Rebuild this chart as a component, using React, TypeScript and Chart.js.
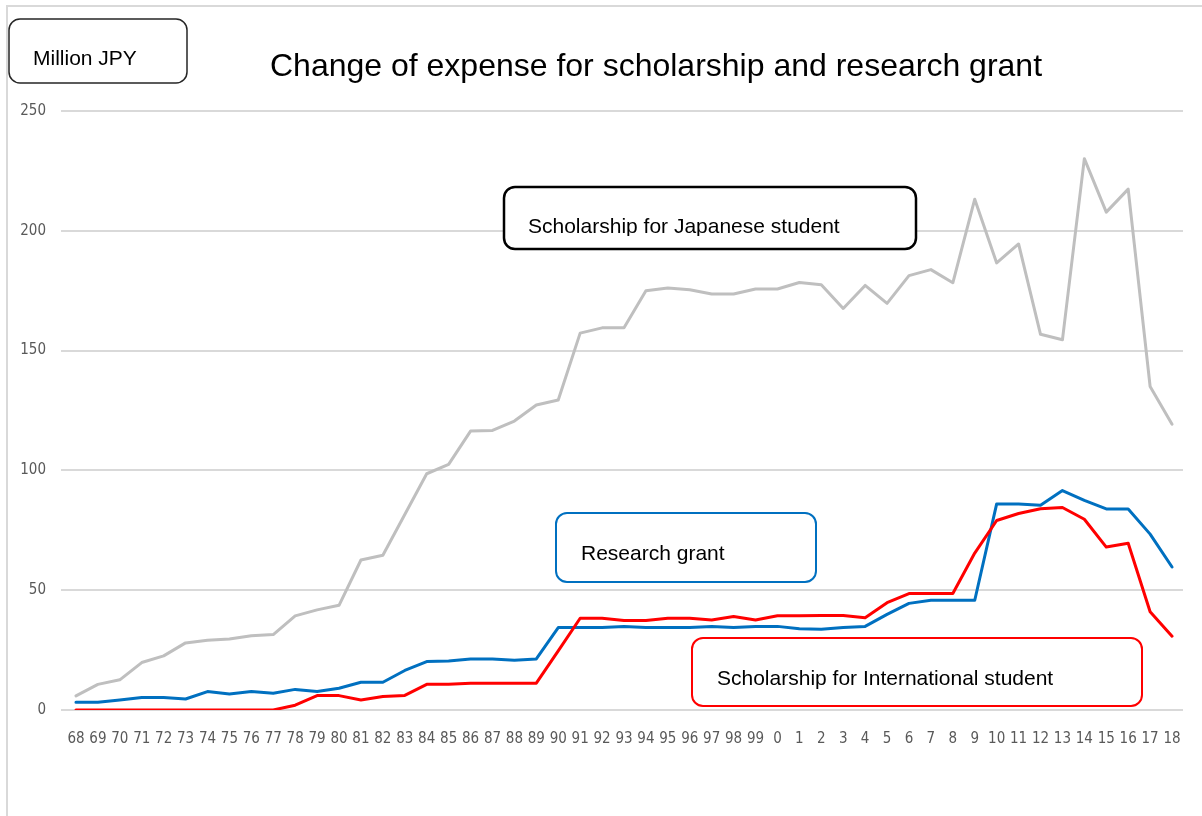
import React, { useEffect, useRef } from "react";
import { Chart, registerables } from "chart.js";

Chart.register(...registerables);

const years = [
  "68", "69", "70", "71", "72", "73", "74", "75", "76", "77", "78", "79", "80", "81", "82", "83", "84",
  "85", "86", "87", "88", "89", "90", "91", "92", "93", "94", "95", "96", "97", "98", "99", "0", "1",
  "2", "3", "4", "5", "6", "7", "8", "9", "10", "11", "12", "13", "14", "15", "16", "17", "18",
];

const japaneseScholarship = [
  5.9, 10.7, 12.6, 19.8, 22.6, 28, 29.1, 29.6, 31, 31.5, 39.3, 41.8, 43.7, 62.6, 64.6, 81.6, 98.6,
  102.5, 116.4, 116.7, 120.6, 127.3, 129.4, 157.3, 159.5, 159.5, 175, 176.1, 175.4, 173.6, 173.6, 175.7, 175.7, 178.4,
  177.5, 167.6, 177.2, 169.7, 181.3, 183.8, 178.3, 213.2, 186.6, 194.5, 156.8, 154.5, 230.1, 207.8, 217.4, 135, 119.3,
];

const researchGrant = [
  3.2, 3.2, 4.2, 5.2, 5.2, 4.6, 7.7, 6.7, 7.7, 7.0, 8.6, 7.7, 9.1, 11.6, 11.6, 16.5, 20.2,
  20.5, 21.3, 21.3, 20.8, 21.3, 34.4, 34.4, 34.4, 34.9, 34.4, 34.4, 34.4, 34.9, 34.4, 34.9, 34.9, 33.9,
  33.7, 34.4, 34.9, 39.9, 44.5, 45.8, 45.8, 45.8, 86, 86, 85.5, 91.6, 87.5, 83.9, 83.9, 73.4, 59.7,
];

const internationalScholarship = [
  0, 0, 0, 0, 0, 0, 0, 0, 0, 0, 2, 6, 6, 4.2, 5.6, 6.1, 10.7,
  10.7, 11.2, 11.2, 11.2, 11.2, 24.7, 38.3, 38.3, 37.4, 37.4, 38.3, 38.3, 37.6, 39, 37.6, 39.3, 39.3,
  39.4, 39.4, 38.5, 44.8, 48.6, 48.6, 48.6, 65.5, 79.1, 82, 84, 84.5, 79.6, 68, 69.6, 41, 30.8,
];

const titleText = "Change of expense for scholarship and research grant";
const unitText = "Million JPY";
const japaneseLabel = "Scholarship for Japanese student";
const researchLabel = "Research grant";
const internationalLabel = "Scholarship for International student";

const SANS = "'Liberation Sans', Arial, sans-serif";
const COND = "'DejaVu Sans Condensed', 'Liberation Sans Narrow', sans-serif";

function roundRect(ctx: CanvasRenderingContext2D, x: number, y: number, w: number, h: number, r: number) {
  ctx.beginPath();
  ctx.moveTo(x + r, y);
  ctx.lineTo(x + w - r, y);
  ctx.arcTo(x + w, y, x + w, y + r, r);
  ctx.lineTo(x + w, y + h - r);
  ctx.arcTo(x + w, y + h, x + w - r, y + h, r);
  ctx.lineTo(x + r, y + h);
  ctx.arcTo(x, y + h, x, y + h - r, r);
  ctx.lineTo(x, y + r);
  ctx.arcTo(x, y, x + r, y, r);
  ctx.closePath();
}

function drawBox(
  ctx: CanvasRenderingContext2D,
  x: number, y: number, w: number, h: number,
  color: string, lw: number, text: string, tx: number, ty: number, clipBottom?: number
) {
  ctx.save();
  roundRect(ctx, x, y, w, h, 11);
  ctx.fillStyle = "#ffffff";
  ctx.fill();
  ctx.lineWidth = lw;
  ctx.strokeStyle = color;
  ctx.stroke();
  if (clipBottom !== undefined) {
    ctx.beginPath();
    ctx.rect(x, y, w, clipBottom - y);
    ctx.clip();
  }
  ctx.fillStyle = "#000000";
  ctx.font = `21px ${SANS}`;
  ctx.textAlign = "left";
  ctx.textBaseline = "alphabetic";
  ctx.fillText(text, tx, ty);
  ctx.restore();
}

const decorPlugin = {
  id: "decor",
  beforeDraw(chart: any) {
    const ctx = chart.ctx as CanvasRenderingContext2D;
    ctx.save();
    ctx.fillStyle = "#ffffff";
    ctx.fillRect(0, 0, chart.width, chart.height);
    ctx.strokeStyle = "#D9D9D9";
    ctx.lineWidth = 2;
    ctx.beginPath();
    ctx.moveTo(7, 820);
    ctx.lineTo(7, 6);
    ctx.lineTo(1210, 6);
    ctx.stroke();
    ctx.restore();
  },
  afterDraw(chart: any) {
    const ctx = chart.ctx as CanvasRenderingContext2D;
    ctx.save();
    ctx.fillStyle = "#000000";
    ctx.font = `32px ${SANS}`;
    ctx.textAlign = "center";
    ctx.textBaseline = "alphabetic";
    ctx.fillText(titleText, 656, 76);
    ctx.restore();

    drawBox(ctx, 9, 19, 178, 64, "#262626", 1.5, unitText, 33, 65);
    drawBox(ctx, 504, 187, 412, 62, "#000000", 2.5, japaneseLabel, 528, 233, 236);
    drawBox(ctx, 556, 513, 260, 69, "#0070C0", 2, researchLabel, 581, 560);
    drawBox(ctx, 692, 638, 450, 68, "#FF0000", 2, internationalLabel, 717, 685);
  },
};

export default function App() {
  const canvasRef = useRef<HTMLCanvasElement | null>(null);

  useEffect(() => {
    const canvas = canvasRef.current;
    if (!canvas) return;
    const chart = new Chart(canvas, {
      type: "line",
      data: {
        labels: years,
        datasets: [
          {
            label: japaneseLabel,
            data: japaneseScholarship,
            borderColor: "#BFBFBF",
            backgroundColor: "#BFBFBF",
            borderWidth: 3,
            pointRadius: 0,
            tension: 0,
            borderJoinStyle: "round",
            borderCapStyle: "round",
            order: 3,
          },
          {
            label: researchLabel,
            data: researchGrant,
            borderColor: "#0070C0",
            backgroundColor: "#0070C0",
            borderWidth: 3,
            pointRadius: 0,
            tension: 0,
            borderJoinStyle: "round",
            borderCapStyle: "round",
            order: 2,
          },
          {
            label: internationalLabel,
            data: internationalScholarship,
            borderColor: "#FF0000",
            backgroundColor: "#FF0000",
            borderWidth: 3,
            pointRadius: 0,
            tension: 0,
            borderJoinStyle: "round",
            borderCapStyle: "round",
            order: 1,
          },
        ],
      },
      options: {
        responsive: false,
        animation: false,
        layout: { padding: { top: 111, right: 19, bottom: 0, left: 0 } },
        plugins: {
          legend: { display: false },
          title: { display: false },
          tooltip: { enabled: false },
        },
        scales: {
          x: {
            type: "category",
            offset: true,
            grid: { display: false, drawTicks: false },
            border: { display: false },
            ticks: {
              autoSkip: false,
              maxRotation: 0,
              minRotation: 0,
              padding: 20,
              color: "#595959",
              font: { family: COND, size: 15 },
            },
            afterFit: (scale: any) => {
              scale.height = 106;
            },
          },
          y: {
            min: 0,
            max: 250,
            grid: {
              color: "#D9D9D9",
              lineWidth: 2,
              drawTicks: true,
              tickLength: 4,
              tickColor: "#D9D9D9",
            },
            border: { display: false },
            ticks: {
              stepSize: 50,
              padding: 15,
              color: "#595959",
              font: { family: COND, size: 15 },
            },
            afterFit: (scale: any) => {
              scale.width = 65;
            },
          },
        },
      },
      plugins: [decorPlugin],
    });
    return () => chart.destroy();
  }, []);

  return (
    <div style={{ position: "absolute", left: 0, top: 0, width: 1202, height: 816, background: "#fff" }}>
      <canvas ref={canvasRef} width={1202} height={816} style={{ width: 1202, height: 816, display: "block" }} />
    </div>
  );
}
